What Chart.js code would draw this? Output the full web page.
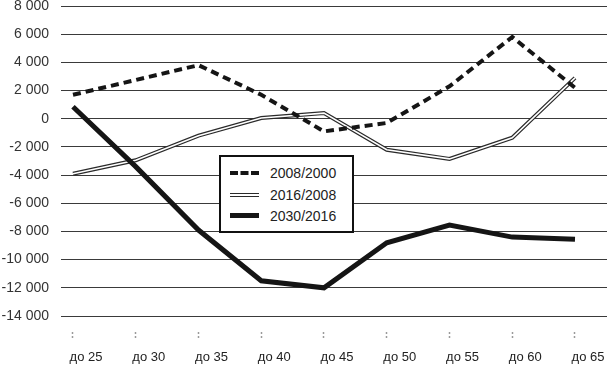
<!DOCTYPE html>
<html>
<head>
<meta charset="utf-8">
<script src="https://cdn.jsdelivr.net/npm/chart.js@4"></script>
<style>
  body { margin: 0; background: #fff; }
  #wrap { position: relative; width: 608px; height: 365px; }
  #legend {
    position: absolute; left: 219px; top: 155px; width: 131px; height: 74px;
    border: 2px solid #111; background: #fff;
    font: 14px "Liberation Sans", sans-serif; color: #222;
  }
  #legend .row { position: absolute; left: 9px; height: 16px; line-height: 16px; }
  #legend .sample { position: absolute; left: 0; width: 29px; height: 0; }
  #legend .label { position: absolute; left: 40px; top: 0; white-space: nowrap; }
</style>
</head>
<body>
<div id="wrap">
  <canvas id="chart"></canvas>
  <div id="legend"></div>
</div>
<script>
// age groups on the x axis
const ageGroups = ["до 25", "до 30", "до 35", "до 40", "до 45", "до 50", "до 55", "до 60", "до 65"];

// change between census years
const change2008_2000 = [1700, 2750, 3800, 1700, -900, -300, 2300, 5800, 2200];
const change2016_2008 = [-3900, -2950, -1200, 50, 400, -2200, -2850, -1350, 2900];
const change2030_2016 = [850, -3400, -7900, -11500, -12000, -8800, -7550, -8400, -8550];

const yTicks = [8000, 6000, 4000, 2000, 0, -2000, -4000, -6000, -8000, -10000, -12000, -14000];

function pts(values) {
  return values.map((v, i) => ({ x: i, y: v }));
}

function fmt(v) {
  // "8 000", "-14 000"
  const s = Math.abs(v).toString().replace(/\B(?=(\d{3})+(?!\d))/g, " ");
  return (v < 0 ? "-" : "") + s;
}

const ink = "#151515";

// datasets are drawn last-to-first, so the dashed series stays on top
const datasets = [
  {
    label: "2008/2000",
    data: pts(change2008_2000),
    borderColor: ink,
    borderWidth: 4,
    borderDash: [8, 5]
  },
  {
    label: "2030/2016",
    data: pts(change2030_2016),
    borderColor: ink,
    borderWidth: 5
  },
  {
    // white core of the double line
    label: "2016/2008 core",
    data: pts(change2016_2008),
    borderColor: "#fff",
    borderWidth: 1.6
  },
  {
    label: "2016/2008",
    data: pts(change2016_2008),
    borderColor: "#2a2a2a",
    borderWidth: 4
  }
];

new Chart(document.getElementById("chart"), {
  type: "line",
  data: { datasets },
  options: {
    animation: false,
    responsive: true,
    maintainAspectRatio: false,
    layout: { padding: { top: 0, right: 1, bottom: 0, left: 0 } },
    elements: {
      point: { radius: 0, hoverRadius: 0 },
      line: { tension: 0, fill: false, borderJoinStyle: "miter" }
    },
    scales: {
      x: {
        type: "linear",
        min: -0.207,
        max: 8.51,
        afterBuildTicks: axis => { axis.ticks = ageGroups.map((_, i) => ({ value: i })); },
        afterFit: axis => { axis.height = 49; },
        border: { display: false },
        grid: {
          drawOnChartArea: false,
          drawTicks: true,
          tickLength: 22,
          tickColor: "#9a9a9a",
          tickWidth: 1.5,
          tickBorderDash: [2, 2, 2, 16],
          tickBorderDashOffset: 6
        },
        ticks: {
          autoSkip: false,
          maxRotation: 0,
          padding: 12,
          labelOffset: 13,
          color: "#222",
          font: { family: "Liberation Sans", size: 13 },
          callback: v => ageGroups[v] ?? ""
        }
      },
      y: {
        min: -14000,
        max: 8000,
        afterBuildTicks: axis => { axis.ticks = yTicks.map(v => ({ value: v })); },
        afterFit: axis => {
          axis.width = 60;
          axis.paddingTop = 6;
          axis.paddingBottom = 0;
        },
        border: { color: "rgba(0,0,0,0)" },
        grid: { color: "#3a3a3a", lineWidth: 1, tickColor: "rgba(0,0,0,0)" },
        ticks: {
          padding: 3,
          color: "#333",
          font: { family: "Liberation Sans", size: 14 },
          callback: v => fmt(v)
        }
      }
    },
    plugins: {
      legend: { display: false },
      tooltip: { enabled: false }
    }
  }
});

// boxed legend inside the plot, as in the source figure
const legendRows = [
  { label: "2008/2000", style: "border-top: 4px dashed " + ink + "; top: 6px;" },
  { label: "2016/2008", style: "border-top: 4px double #2a2a2a; top: 6px;" },
  { label: "2030/2016", style: "border-top: 5px solid " + ink + "; top: 5px;" }
];
const legend = document.getElementById("legend");
legendRows.forEach((r, i) => {
  const row = document.createElement("div");
  row.className = "row";
  row.style.top = (8 + i * 21.5) + "px";
  row.innerHTML = '<span class="sample" style="' + r.style + '"></span><span class="label">' + r.label + "</span>";
  legend.appendChild(row);
});
</script>
</body>
</html>
